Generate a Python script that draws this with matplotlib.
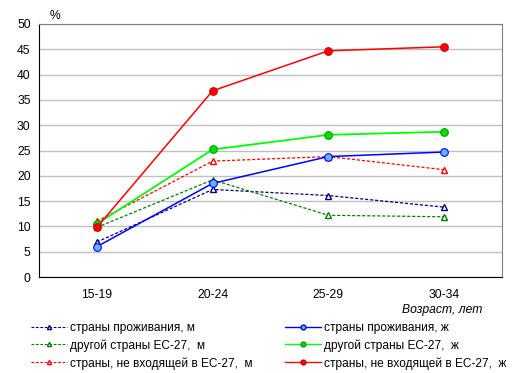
import matplotlib
matplotlib.use("Agg")
from matplotlib import pyplot as plt
from matplotlib.lines import Line2D

plt.rcParams['font.family'] = ['Liberation Sans', 'DejaVu Sans']

# age groups and shares (%)
age_groups = ["15-19", "20-24", "25-29", "30-34"]
home_m = [6.9, 17.3, 16.1, 13.8]
home_f = [6.0, 18.5, 23.8, 24.7]
eu_m = [9.8, 19.2, 12.2, 11.9]
eu_f = [10.5, 25.2, 28.1, 28.7]
noneu_m = [11.0, 22.9, 23.8, 21.2]
noneu_f = [9.8, 36.8, 44.7, 45.5]

labels_m = [
    "страны проживания, м",
    "другой страны ЕС-27,  м",
    "страны, не входящей в ЕС-27,  м",
]
labels_f = [
    "страны проживания, ж",
    "другой страны ЕС-27,  ж",
    "страны, не входящей в ЕС-27,  ж",
]

fig = plt.figure(figsize=(5.17, 3.73), dpi=100)
ax = fig.add_axes([39 / 517, 1 - 277 / 373, 463 / 517, 253 / 373])

x = range(len(age_groups))
dash = (0, (2.5, 1.5))

# dashed lines with triangles (men), solid lines with circles (women)
ax.plot(x, home_m, color="#000080", ls=dash, lw=0.9, marker="^", ms=4.2,
        mfc="white", mec="#000080", mew=1, zorder=3)
ax.plot(x, home_f, color="#0000FF", ls="-", lw=1.1, marker="o", ms=5.5,
        mfc="#66B3FF", mec="#0000FF", mew=0.8, zorder=4)
ax.plot(x, eu_m, color="#008000", ls=dash, lw=0.9, marker="^", ms=4.2,
        mfc="white", mec="#008000", mew=1, zorder=3)
ax.plot(x, eu_f, color="#00FF00", ls="-", lw=1.3, marker="o", ms=5.5,
        mfc="#00E000", mec="#00A000", mew=0.8, zorder=4)
ax.plot(x, noneu_m, color="#FF0000", ls=dash, lw=0.9, marker="^", ms=4.2,
        mfc="white", mec="#FF0000", mew=1, zorder=3)
ax.plot(x, noneu_f, color="#FF0000", ls="-", lw=1.1, marker="o", ms=5.5,
        mfc="#FF0000", mec="#D00000", mew=0.8, zorder=4)

ax.set_xlim(-0.5, 3.5)
ax.set_ylim(0, 50)
ax.set_yticks(range(0, 51, 5))
ax.set_xticks(list(x))
ax.set_xticklabels(age_groups)
ax.tick_params(length=0, labelsize=8.7, pad=6)
ax.tick_params(axis="x", pad=9)
ax.yaxis.grid(True, color="#C0C0C0", lw=1)
ax.set_axisbelow(True)
for s in ["top", "right"]:
    ax.spines[s].set_color("#808080")
for s in ["left", "bottom"]:
    ax.spines[s].set_color("black")

fig.text(50 / 517, 1 - 16 / 373, "%", fontsize=8.7, va="center", ha="left")
fig.text(482 / 517, 1 - 310 / 373, "Возраст, лет", fontsize=8.7, style="italic",
         va="center", ha="right")

h_m = [
    Line2D([], [], color=c, ls=dash, lw=0.8, marker="^", ms=3, mfc="white", mec=c)
    for c in ["#000080", "#008000", "#FF0000"]
]
h_f = [
    Line2D([], [], color=c, lw=1, marker="o", ms=3.5, mfc=f, mec=e)
    for c, f, e in [("#0000FF", "#66B3FF", "#0000FF"),
                    ("#00FF00", "#00E000", "#00A000"),
                    ("#FF0000", "#FF0000", "#D00000")]
]

leg_kw = dict(loc="upper left", frameon=False, fontsize=8.6, handlelength=3.0,
              handletextpad=0.3, labelspacing=0.45, borderaxespad=0)
fig.legend(h_m, labels_m, bbox_to_anchor=(26 / 517, 1 - 317 / 373), **leg_kw)
fig.legend(h_f, labels_f, bbox_to_anchor=(280 / 517, 1 - 317 / 373), **leg_kw)

fig.savefig("out.png", dpi=100)
